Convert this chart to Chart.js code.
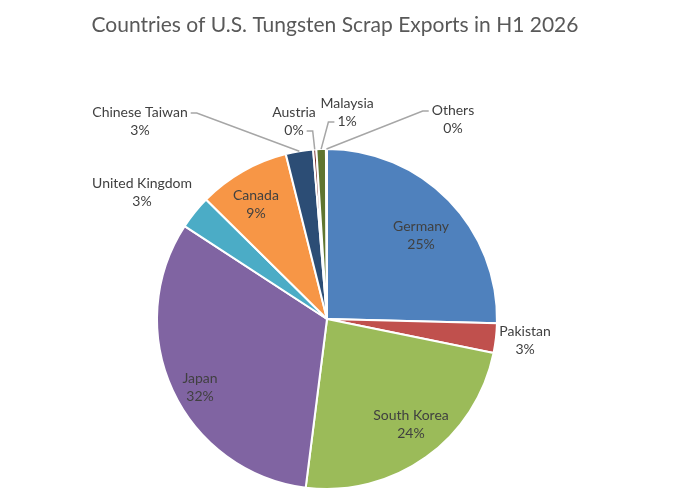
<!DOCTYPE html>
<html><head><meta charset="utf-8">
<script src="https://cdn.jsdelivr.net/npm/chart.js@4"></script>
<style>html,body{margin:0;padding:0;background:#fff}#wrap{width:695px;height:490px;position:relative}</style>
</head><body><div id="wrap"><canvas id="c"></canvas></div>
<script>
const titleText = 'Countries of U.S. Tungsten Scrap Exports in H1 2026';
const categories = ['Germany','Pakistan','South Korea','Japan','United Kingdom','Canada','Chinese Taiwan','Austria','Malaysia','Others'];
const shares = [25.4, 2.8, 23.8, 32.2, 3.2, 8.7, 2.6, 0.3, 0.9, 0.1];
const sliceColors = ['#4F81BD','#C0504D','#9BBB59','#8064A2','#4BACC6','#F79646','#2C4D75','#772C2A','#5F7530','#4D3B62'];
// label centres, in units of the pie radius, relative to the pie centre
const labelPlacement = [[0.553,-0.494],[1.165,0.129],[0.494,0.618],[-0.747,0.40],[-1.088,-0.747],[-0.418,-0.676],[-1.10,-1.159],[-0.194,-1.159],[0.118,-1.212],[0.741,-1.171]];
const leaders = [null,null,null,null,null,null,{line:0,side:'right'},{line:1,side:'right'},{line:1,side:'left'},{line:0,side:'left'}];
const FONT = 'Lato, "Open Sans", sans-serif';

const labelPlugin = {
  id: 'pieLabels',
  afterDatasetsDraw(chart) {
    const ctx = chart.ctx;
    const meta = chart.getDatasetMeta(0);
    const total = shares.reduce((a, b) => a + b, 0);
    ctx.save();
    ctx.font = '14px ' + FONT;
    ctx.textAlign = 'center';
    ctx.textBaseline = 'middle';
    meta.data.forEach((arc, i) => {
      const R = arc.outerRadius;
      const tx = arc.x + R * labelPlacement[i][0];
      const ty = arc.y + R * labelPlacement[i][1];
      const lines = [categories[i], Math.round(shares[i] / total * 100) + '%'];
      const ys = [ty - 9, ty + 9];
      ctx.fillStyle = '#404040';
      lines.forEach((t, k) => ctx.fillText(t, tx, ys[k]));
      const ld = leaders[i];
      if (ld) {
        const mid = (arc.startAngle + arc.endAngle) / 2;
        const px = arc.x + R * Math.cos(mid);
        const py = arc.y + R * Math.sin(mid);
        const dir = ld.side === 'right' ? 1 : -1;
        const w = ctx.measureText(lines[ld.line]).width;
        const sx = tx + dir * (w / 2 + 3);
        const sy = ys[ld.line];
        const ex = sx + dir * Math.max(0, Math.min(6, dir * (px - sx)));
        ctx.strokeStyle = '#A6A6A6';
        ctx.lineWidth = 1.5;
        ctx.beginPath();
        ctx.moveTo(sx, sy);
        ctx.lineTo(ex, sy);
        ctx.lineTo(px, py);
        ctx.stroke();
      }
    });
    ctx.font = '21px ' + FONT;
    ctx.fillStyle = '#595959';
    ctx.fillText(titleText, 335, 25);
    ctx.restore();
  }
};

new Chart(document.getElementById('c'), {
  type: 'pie',
  data: {
    labels: categories,
    datasets: [{
      data: shares,
      backgroundColor: sliceColors,
      borderColor: '#FFFFFF',
      borderWidth: 2
    }]
  },
  options: {
    responsive: true,
    maintainAspectRatio: false,
    animation: false,
    layout: { padding: { top: 148, bottom: 0, left: 0, right: 41 } },
    plugins: { legend: { display: false }, tooltip: { enabled: false }, title: { display: false } }
  },
  plugins: [labelPlugin]
});
</script>
</body></html>
